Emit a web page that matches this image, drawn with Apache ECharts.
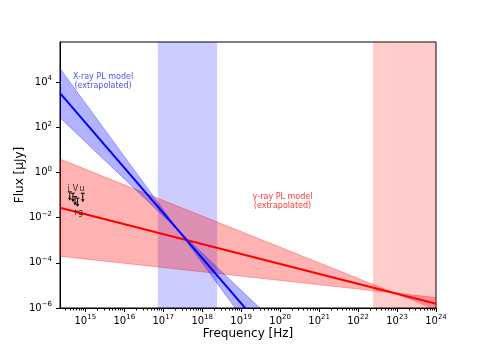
<!DOCTYPE html>
<html>
<head>
<meta charset="utf-8">
<script src="https://cdn.jsdelivr.net/npm/echarts@6/dist/echarts.min.js"></script>
<style>
  html, body { margin: 0; padding: 0; background: #fff; }
  #chart { width: 485px; height: 347px; }
</style>
</head>
<body>
<div id="chart"></div>
<script>
// frequency range of the plot (Hz) and flux range (uJy)
const freqMin = 2.24e14
const freqMax = 1e24
const fluxMin = 1e-6
const fluxMax = 5.9e5

const xTickValues = [1e15, 1e16, 1e17, 1e18, 1e19, 1e20, 1e21, 1e22, 1e23, 1e24]
const yTickValues = [1e-6, 1e-4, 1e-2, 1, 1e2, 1e4]
const minorMultipliers = [2, 3, 4, 5, 6, 7, 8, 9]
const minorDecades = [1e14, 1e15, 1e16, 1e17, 1e18, 1e19, 1e20, 1e21, 1e22, 1e23]

// observed energy bands
const xraySpan = [7.25e16, 2.42e18]
const gammaSpan = [2.42e22, 1e24]

// power-law models: flux at the two end frequencies
const xrayEnds = [2.24e14, 1e20]
const xrayCenter = [3236, 1.6e-8]
const xraySteep = [3.98e4, 1.9e-9]
const xrayShallow = [263, 1.4e-7]

const gammaEnds = [2.24e14, 1e24]
const gammaCenter = [0.0275, 1.55e-6]
const gammaSteep = [3.9, 8.5e-7]
const gammaShallow = [1.95e-4, 2.9e-6]

// optical upper limits
const ulFreq = [3.99e14, 4.8e14, 5.45e14, 6.3e14, 8.6e14]
const ulFlux = [0.138, 0.12, 0.085, 0.073, 0.12]

// filter names and where they are written
const filterNames = ['i', 'V', 'u', 'r', 'g']
const filterFreq = [3.7e14, 5.6e14, 8.2e14, 5.75e14, 7.5e14]
const filterFlux = [0.19, 0.19, 0.19, 0.016, 0.016]

// model captions
const captions = ['X-ray PL model\n(extrapolated)', 'γ-ray PL model\n(extrapolated)']
const captionFreq = [2.85e15, 1.15e20]
const captionFlux = [1.1e4, 0.05]
const captionColors = ['#2222ee', '#ff0000']

const minorTicks = []
minorDecades.forEach(d => minorMultipliers.forEach(m => {
  const v = d * m
  if (v > freqMin && v < freqMax) minorTicks.push(v)
}))

// keep edge ticks just inside the axis extent
const inside = v => v * 0.999999

const font = 'DejaVu Sans'

function powLabel(v) {
  const e = Math.round(Math.log10(v))
  return '{b|10}{s|' + String(e).replace('-', '\u2212') + '}'
}
const powRich = {
  b: { fontSize: 10, lineHeight: 14, fontFamily: font, color: '#000' },
  s: { fontSize: 7, lineHeight: 8, verticalAlign: 'top', fontFamily: font, color: '#000' }
}

function bowtie(ends, steep, shallow, color) {
  return {
    type: 'custom',
    silent: true,
    data: [[ends[0], ends[1], steep[0], steep[1], shallow[0], shallow[1]]],
    renderItem(params, api) {
      const cs = params.coordSys
      const pts = [
        api.coord([api.value(0), api.value(2)]),
        api.coord([api.value(1), api.value(3)]),
        api.coord([api.value(1), api.value(5)]),
        api.coord([api.value(0), api.value(4)])
      ]
      return {
        type: 'group',
        clipPath: { type: 'rect', shape: { x: cs.x, y: cs.y, width: cs.width, height: cs.height } },
        children: [{
          type: 'polygon',
          shape: { points: pts },
          style: { fill: color, stroke: color, lineWidth: 1 }
        }]
      }
    }
  }
}

function modelLine(ends, flux, color) {
  return {
    type: 'line',
    silent: true,
    symbol: 'none',
    data: [[ends[0], flux[0]], [ends[1], flux[1]]],
    lineStyle: { color: color, width: 2 },
    clip: true,
    z: 5
  }
}

const chart = echarts.init(document.getElementById('chart'))
chart.setOption({
  animation: false,
  grid: { left: 60, right: 49, top: 42, bottom: 39, show: true, borderColor: '#000', borderWidth: 1 },
  xAxis: [{
    type: 'log',
    min: freqMin,
    max: freqMax,
    name: 'Frequency [Hz]',
    nameLocation: 'middle',
    nameGap: 20,
    nameMoveOverlap: false,
    nameTextStyle: { fontSize: 12, fontFamily: font, color: '#000' },
    axisLine: { lineStyle: { color: '#000', width: 1 } },
    axisTick: { customValues: xTickValues.map(inside), length: 4, lineStyle: { color: '#000' } },
    axisLabel: { customValues: xTickValues.map(inside), margin: 6, formatter: powLabel, rich: powRich },
    splitLine: { show: false }
  }, {
    type: 'log',
    min: freqMin,
    max: freqMax,
    position: 'top',
    offset: -266,
    axisLine: { show: false },
    axisTick: { customValues: minorTicks, inside: true, length: 2.5, lineStyle: { color: '#000' } },
    axisLabel: { show: false },
    splitLine: { show: false }
  }],
  yAxis: {
    type: 'log',
    min: fluxMin,
    max: fluxMax,
    name: 'Flux [\u03bcJy]',
    nameLocation: 'middle',
    nameGap: 34,
    nameMoveOverlap: false,
    nameTextStyle: { fontSize: 12, fontFamily: font, color: '#000' },
    axisLine: { lineStyle: { color: '#000', width: 1 } },
    axisTick: { customValues: yTickValues.map(v => v * 1.000001), length: 4, lineStyle: { color: '#000' } },
    axisLabel: { customValues: yTickValues.map(v => v * 1.000001), margin: 8, formatter: powLabel, rich: powRich },
    splitLine: { show: false }
  },
  series: [
    {
      type: 'line',
      data: [],
      silent: true,
      z: 1,
      markArea: {
        silent: true,
        data: [
          [{ xAxis: xraySpan[0], itemStyle: { color: 'rgba(0,0,255,0.2)' } }, { xAxis: xraySpan[1] }],
          [{ xAxis: gammaSpan[0], itemStyle: { color: 'rgba(255,0,0,0.2)' } }, { xAxis: gammaSpan[1] }]
        ]
      }
    },
    bowtie(gammaEnds, gammaSteep, gammaShallow, 'rgba(255,0,0,0.3)'),
    bowtie(xrayEnds, xraySteep, xrayShallow, 'rgba(0,0,255,0.3)'),
    modelLine(gammaEnds, gammaCenter, '#ff0000'),
    modelLine(xrayEnds, xrayCenter, '#0000ff'),
    {
      type: 'custom',
      silent: true,
      z: 6,
      data: ulFreq.map((f, i) => [f, ulFlux[i]]),
      renderItem(params, api) {
        const p = api.coord([api.value(0), api.value(1)])
        const st = { stroke: '#000', lineWidth: 1 }
        return {
          type: 'group',
          children: [
            { type: 'line', shape: { x1: p[0] - 2, y1: p[1], x2: p[0] + 2, y2: p[1] }, style: st },
            { type: 'line', shape: { x1: p[0], y1: p[1], x2: p[0], y2: p[1] + 7 }, style: st },
            { type: 'polygon', shape: { points: [[p[0] - 1.8, p[1] + 6], [p[0] + 1.8, p[1] + 6], [p[0], p[1] + 9]] }, style: { fill: '#000' } }
          ]
        }
      }
    },
    {
      type: 'scatter',
      silent: true,
      symbolSize: 0,
      z: 7,
      data: filterNames.map((n, i) => ({ value: [filterFreq[i], filterFlux[i]], name: n })),
      label: { show: true, position: 'inside', formatter: '{b}', fontSize: 8, fontFamily: font, color: '#000' }
    },
    {
      type: 'scatter',
      silent: true,
      symbolSize: 0,
      z: 7,
      data: captions.map((c, i) => ({
        value: [captionFreq[i], captionFlux[i]],
        label: { color: captionColors[i] }
      })),
      label: {
        show: true, position: 'inside', fontSize: 8, lineHeight: 9, fontFamily: font, align: 'center',
        formatter: p => captions[p.dataIndex]
      }
    }
  ]
})
</script>
</body>
</html>
